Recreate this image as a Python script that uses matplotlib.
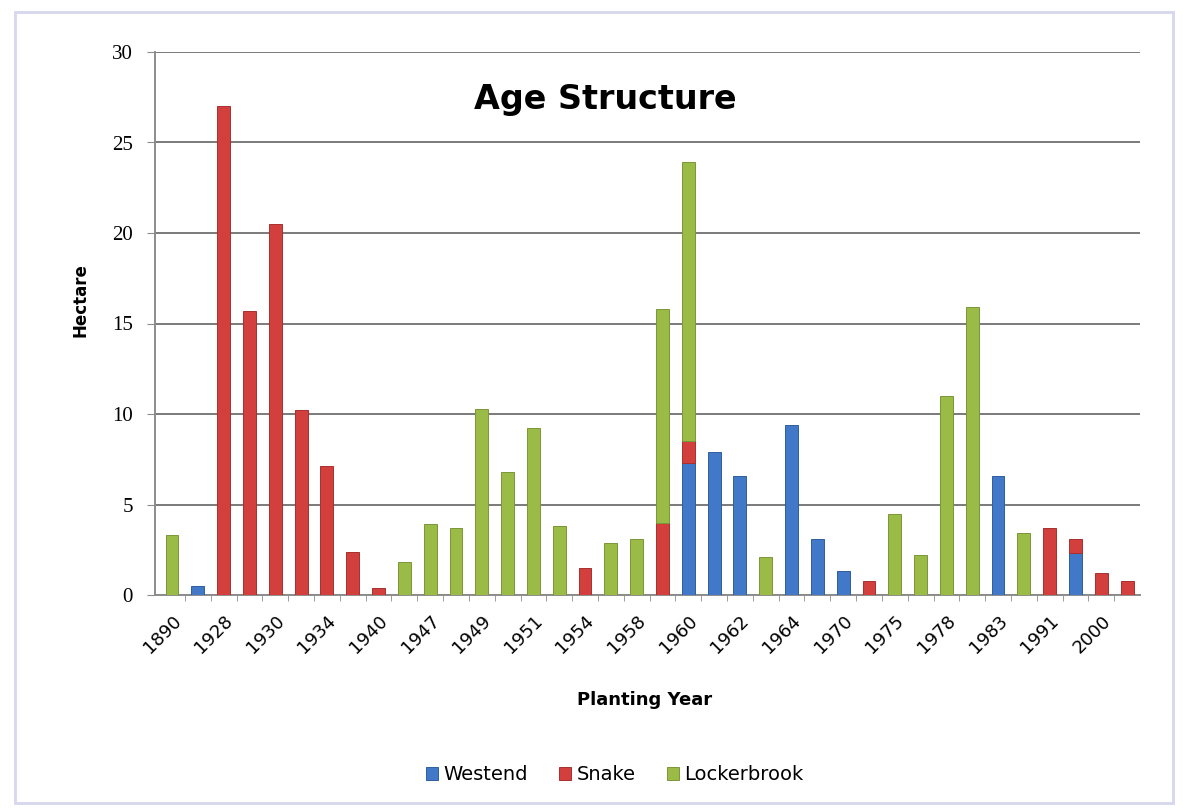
import matplotlib
matplotlib.use('Agg')
import matplotlib.pyplot as plt
from matplotlib.patches import Rectangle
import numpy as np

# planting years (Excel only shows every other label)
years = ['1890', '', '1928', '', '1930', '', '1934', '', '1940', '',
         '1947', '', '1949', '', '1951', '', '1954', '', '1958', '',
         '1960', '', '1962', '', '1964', '', '1970', '', '1975', '',
         '1978', '', '1983', '', '1991', '', '2000', '']

westend = [0, 0.5, 0, 0, 0, 0, 0, 0, 0, 0,
           0, 0, 0, 0, 0, 0, 0, 0, 0, 0,
           7.3, 7.9, 6.6, 0, 9.4, 3.1, 1.3, 0, 0, 0,
           0, 0, 6.6, 0, 0, 2.3, 0, 0]
snake = [0, 0, 27.0, 15.7, 20.5, 10.2, 7.1, 2.4, 0.4, 0,
         0, 0, 0, 0, 0, 0, 1.5, 0, 0, 4.0,
         1.2, 0, 0, 0, 0, 0, 0, 0.8, 0, 0,
         0, 0, 0, 0, 3.7, 0.8, 1.2, 0.8]
lockerbrook = [3.3, 0, 0, 0, 0, 0, 0, 0, 0, 1.8,
               3.9, 3.7, 10.3, 6.8, 9.2, 3.8, 0, 2.9, 3.1, 11.8,
               15.4, 0, 0, 2.1, 0, 0, 0, 0, 4.5, 2.2,
               11.0, 15.9, 0, 3.4, 0, 0, 0, 0]

BLUE = '#4178c8'
RED = '#d33f3c'
GREEN = '#9bbb47'


def stacked(ax, x, vals, bottom, color, edge, label):
    # skip empty segments so no stray edge lines get drawn
    keep = vals > 0
    ax.bar(x[keep], vals[keep], 0.5, bottom=bottom[keep], color=color,
           edgecolor=edge, linewidth=0.7, label=label, zorder=3)


def main():
    fig = plt.figure(figsize=(11.83, 8.08), dpi=100)
    fig.patches.append(Rectangle((15 / 1183, 5 / 808), 1158 / 1183, 791 / 808,
                                 transform=fig.transFigure, fill=False,
                                 edgecolor='#d6d6ee', linewidth=2))
    ax = fig.add_axes([155 / 1183, 213 / 808, 985 / 1183, 543 / 808])

    x = np.arange(len(years))
    w = np.array(westend)
    s = np.array(snake)
    g = np.array(lockerbrook)
    stacked(ax, x, w, np.zeros_like(w), BLUE, '#2f5f9e', 'Westend')
    stacked(ax, x, s, w, RED, '#a8302e', 'Snake')
    stacked(ax, x, g, w + s, GREEN, '#7a9638', 'Lockerbrook')

    ax.set_xlim(-0.66, len(years) - 0.5)
    ax.set_ylim(0, 30)
    ax.set_yticks(range(0, 31, 5))
    ax.yaxis.grid(True, color='#7a7a7a', linewidth=1.4, zorder=0)
    for sp in ['top', 'right']:
        ax.spines[sp].set_visible(False)
    for sp in ['left', 'bottom']:
        ax.spines[sp].set_color('#8c8c8c')
        ax.spines[sp].set_linewidth(1.4)
    ax.tick_params(axis='y', direction='out', length=6, color='#8c8c8c',
                   labelsize=15, pad=10)
    for lbl in ax.get_yticklabels():
        lbl.set_family('Liberation Serif')

    ax.set_xticks(x[::2])
    ax.set_xticklabels(years[::2], rotation=45, ha='right',
                       rotation_mode='anchor', fontsize=13)
    ax.set_xticks(x[:-1] + 0.5, minor=True)
    ax.tick_params(axis='x', which='major', length=0, pad=12)
    ax.tick_params(axis='x', which='minor', length=4, color='#8c8c8c')

    fig.text(605 / 1183, 1 - 100 / 808, 'Age Structure', fontsize=24,
             fontweight='bold', ha='center', va='center')
    fig.text(80 / 1183, 1 - 300 / 808, 'Hectare', fontsize=12,
             fontweight='bold', rotation=90, ha='center', va='center')
    fig.text(645 / 1183, 1 - 700 / 808, 'Planting Year', fontsize=13,
             fontweight='bold', ha='center', va='center')

    fig.legend(loc='center', bbox_to_anchor=(615 / 1183, 1 - 775 / 808),
               ncol=3, frameon=False, fontsize=14, handlelength=0.6,
               handleheight=0.6, handletextpad=0.3, columnspacing=1.6)

    fig.savefig('out.png', dpi=100)


if __name__ == '__main__':
    main()
